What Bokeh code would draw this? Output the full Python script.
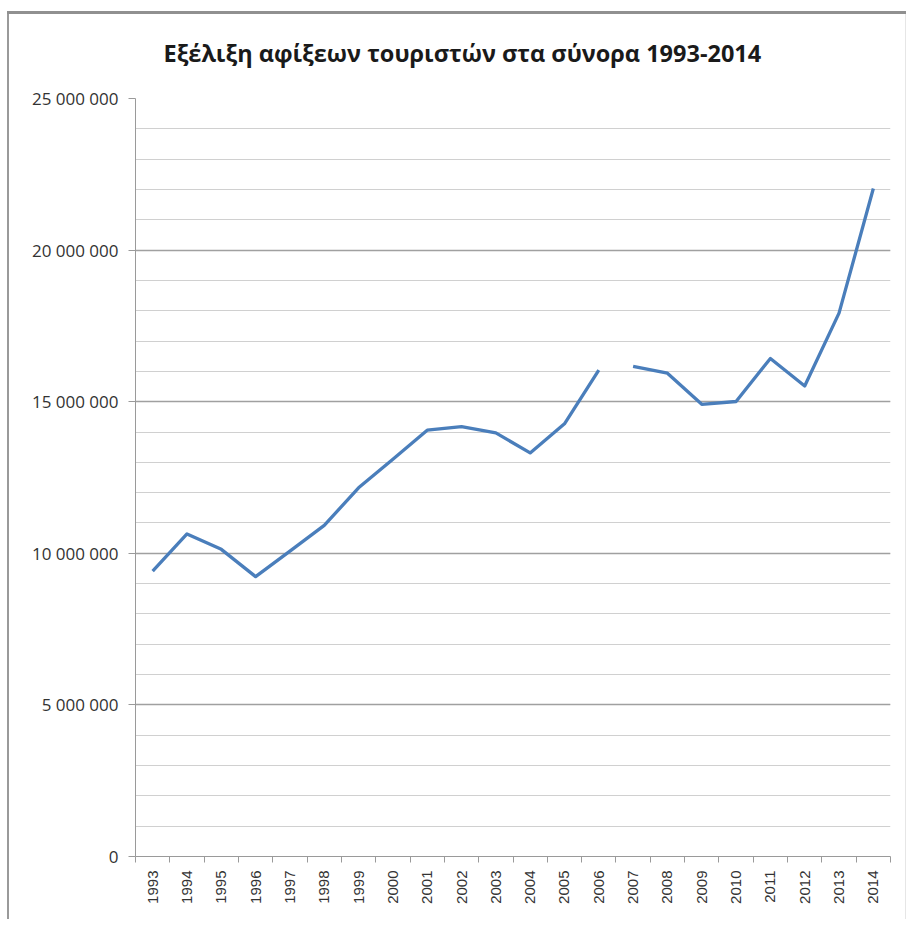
from bokeh.plotting import figure
from bokeh.models import FixedTicker, Range1d
from bokeh.embed import file_html
from bokeh.resources import INLINE

# ---- data ----
years = [1993, 1994, 1995, 1996, 1997, 1998, 1999, 2000, 2001, 2002, 2003,
         2004, 2005, 2006, 2007, 2008, 2009, 2010, 2011, 2012, 2013, 2014]
arrivals = [9410000, 10640000, 10130000, 9230000, 10070000, 10920000, 12160000,
            13100000, 14060000, 14180000, 13970000, 13310000, 14270000, 16040000,
            16165000, 15940000, 14915000, 15007000, 16427000, 15518000, 17920000,
            22030000]
gap_after = 2006  # line is broken between 2006 and 2007
y_major = [0, 5000000, 10000000, 15000000, 20000000, 25000000]
y_minor = list(range(0, 25000001, 1000000))
title_text = "Εξέλιξη αφίξεων τουριστών στα σύνορα 1993-2014"

def fmt(v):
    return "{:,}".format(v).replace(",", " ")

p = figure(width=906, height=919, output_backend="svg", toolbar_location=None,
           x_range=Range1d(years[0] - 0.5, years[-1] + 0.5),
           y_range=Range1d(0, 25000000),
           min_border_left=135, min_border_right=16,
           min_border_top=98, min_border_bottom=63)
# chart-area frame (top and left rules) painted behind a transparent canvas border
p.styles = {
    "background": ("linear-gradient(#909090,#909090) 7px 11px / 899px 3px no-repeat, "
                   "linear-gradient(#9a9a9a,#9a9a9a) 7px 11px / 2px 920px no-repeat, "
                   "linear-gradient(#e6e6e6,#e6e6e6) 905px 11px / 1px 920px no-repeat"),
}
p.border_fill_color = None
p.outline_line_color = None
p.background_fill_color = "white"

p.title.text = title_text
p.title.text_font = "Open Sans"
p.title.text_font_style = "bold"
p.title.text_font_size = "23.5px"
p.title.text_color = "#1a1a1a"
p.title.align = "left"
p.title.offset = 28
p.title.standoff = 60

# lines (two segments)
idx = years.index(gap_after) + 1
p.line(years[:idx], arrivals[:idx], line_color="#4a7ebb", line_width=3.3, line_join="round")
p.line(years[idx:], arrivals[idx:], line_color="#4a7ebb", line_width=3.3, line_join="round")

# y axis
yax = p.yaxis[0]
yax.ticker = FixedTicker(ticks=y_major, minor_ticks=y_minor)
yax.major_label_overrides = {v: fmt(v) for v in y_major}
yax.major_label_text_font = "Open Sans"
yax.major_label_text_font_size = "17px"
yax.major_label_text_color = "#333333"
yax.axis_line_color = "#9a9a9a"
yax.major_tick_line_color = "#9a9a9a"
yax.major_tick_out = 7
yax.major_tick_in = 0
yax.minor_tick_line_color = None
yax.major_label_standoff = 10

# x axis
xax = p.xaxis[0]
bounds = [y - 0.5 for y in years] + [years[-1] + 0.5]
xax.ticker = FixedTicker(ticks=years, minor_ticks=bounds)
xax.major_label_orientation = 1.5708
xax.major_label_text_font = "Liberation Sans"
xax.major_label_text_font_size = "15px"
xax.major_label_text_color = "#333333"
xax.axis_line_color = "#9a9a9a"
xax.major_tick_line_color = None
xax.minor_tick_line_color = "#9a9a9a"
xax.minor_tick_out = 6
xax.minor_tick_in = 0
xax.major_label_standoff = 8

# grids
p.xgrid.grid_line_color = None
p.ygrid.ticker = FixedTicker(ticks=y_major, minor_ticks=y_minor)
p.ygrid.grid_line_color = "#a0a0a0"
p.ygrid.grid_line_width = 1.6
p.ygrid.minor_grid_line_color = "#d0d0d0"
p.ygrid.minor_grid_line_width = 1.2

open("out.html", "w").write(file_html(p, INLINE))
